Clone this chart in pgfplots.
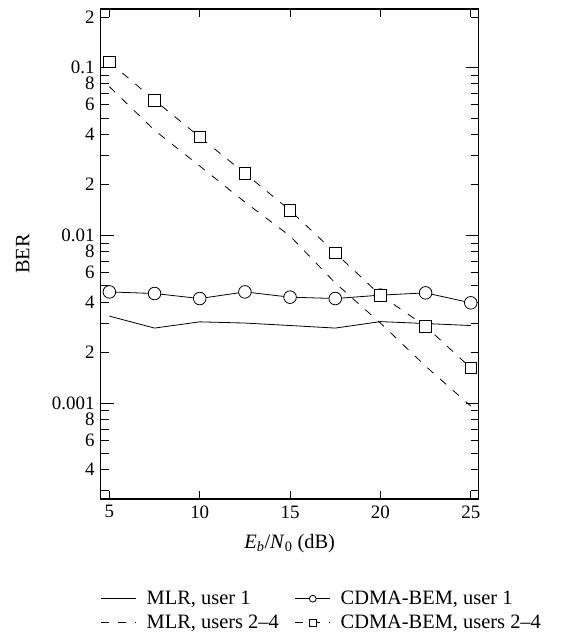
\documentclass[border=0pt]{standalone}
\usepackage{fontspec}
\setmainfont{Liberation Serif}
\usepackage{pgfplots}
\pgfplotsset{compat=1.18}

\begin{document}
\begin{tikzpicture}
\begin{semilogyaxis}[
  name=ax, scale only axis, width=378bp, height=490bp,
  xmin=4.52, xmax=25.44, ymin=2.68e-4, ymax=0.2235,
  xtick=\empty,
  extra x ticks={5,10,15,20,25},
  extra x tick style={major tick length=8bp},
  ytick={0.001,0.01,0.1}, yticklabels={0.001,0.01,0.1},
  extra y ticks={4e-4,6e-4,8e-4,2e-3,4e-3,6e-3,8e-3,0.02,0.04,0.06,0.08,0.2},
  extra y tick labels={4,6,8,2,4,6,8,2,4,6,8,2},
  extra y tick style={major tick length=8bp},
  minor ytick={3e-4,5e-4,7e-4,9e-4,3e-3,5e-3,7e-3,9e-3,0.03,0.05,0.07,0.09},
  minor tick length=8bp, major tick length=13bp,
  tick align=inside,
  axis line style={line width=1.1bp},
  every tick/.style={line width=1bp, black},
  /pgf/number format/assume math mode=true,
  tick label style={font=\fontsize{19}{19}\selectfont},
  xticklabel style={yshift=-3bp},
  yticklabel style={inner sep=1bp, xshift=-5bp, text height=12bp, text depth=0bp},
  label style={font=\fontsize{20.5}{24}\selectfont},
  xlabel={\textit{E}\textsubscript{\textit{b}}/\textit{N}\textsubscript{0} (dB)},
  ylabel={BER},
  ylabel style={yshift=18bp},
  xlabel style={yshift=-9bp},
  legend columns=2,
  legend cell align=left,
  legend style={at={(axis description cs:0,0)}, anchor=north west, yshift=-90bp,
    draw=none, fill=none, inner sep=0pt, row sep=5bp, font=\fontsize{20.5}{24}\selectfont,
    /tikz/every odd column/.append style={column sep=8bp},
    /tikz/every even column/.append style={column sep=14bp}},
  legend image code/.code={\draw[#1, mark size=3.4bp, mark repeat=2, mark phase=2]
    plot coordinates {(0bp,0bp) (17.5bp,0bp) (35bp,0bp)};},
]
\addplot[black, line width=0.8bp, no marks] coordinates {
  (5,0.0033) (7.5,0.0028) (10,0.00305) (12.5,0.0030) (15,0.0029)
  (17.5,0.0028) (20,0.00306) (22.5,0.00298) (25,0.0029)};
\addlegendentry{MLR, user 1}
\addplot[black, line width=0.8bp, mark=*, mark size=6.3bp, mark options={fill=white, solid}] coordinates {
  (5,0.0046) (7.5,0.0045) (10,0.0042) (12.5,0.0046) (15,0.00428)
  (17.5,0.0042) (20,0.0044) (22.5,0.00454) (25,0.00396)};
\addlegendentry{CDMA-BEM, user 1}
\addplot[black, line width=0.8bp, dash pattern=on 8bp off 9bp, no marks] coordinates {
  (5,0.077) (7.5,0.0423) (10,0.0259) (12.5,0.0158) (15,0.0099)
  (17.5,0.0052) (20,0.0030) (22.5,0.00166) (25,0.00096)};
\addlegendentry{MLR, users 2--4}
\addplot[black, line width=0.8bp, dash pattern=on 8bp off 9bp, mark=square*, mark size=5.8bp, mark options={fill=white, solid}] coordinates {
  (5,0.108) (7.5,0.0639) (10,0.0386) (12.5,0.0234) (15,0.0141)
  (17.5,0.00786) (20,0.0044) (22.5,0.00287) (25,0.00162)};
\addlegendentry{CDMA-BEM, users 2--4}
\end{semilogyaxis}
\path ([shift={(-100.7bp,-134bp)}]ax.south west) rectangle ([shift={(84bp,9bp)}]ax.north east);
\end{tikzpicture}
\end{document}
